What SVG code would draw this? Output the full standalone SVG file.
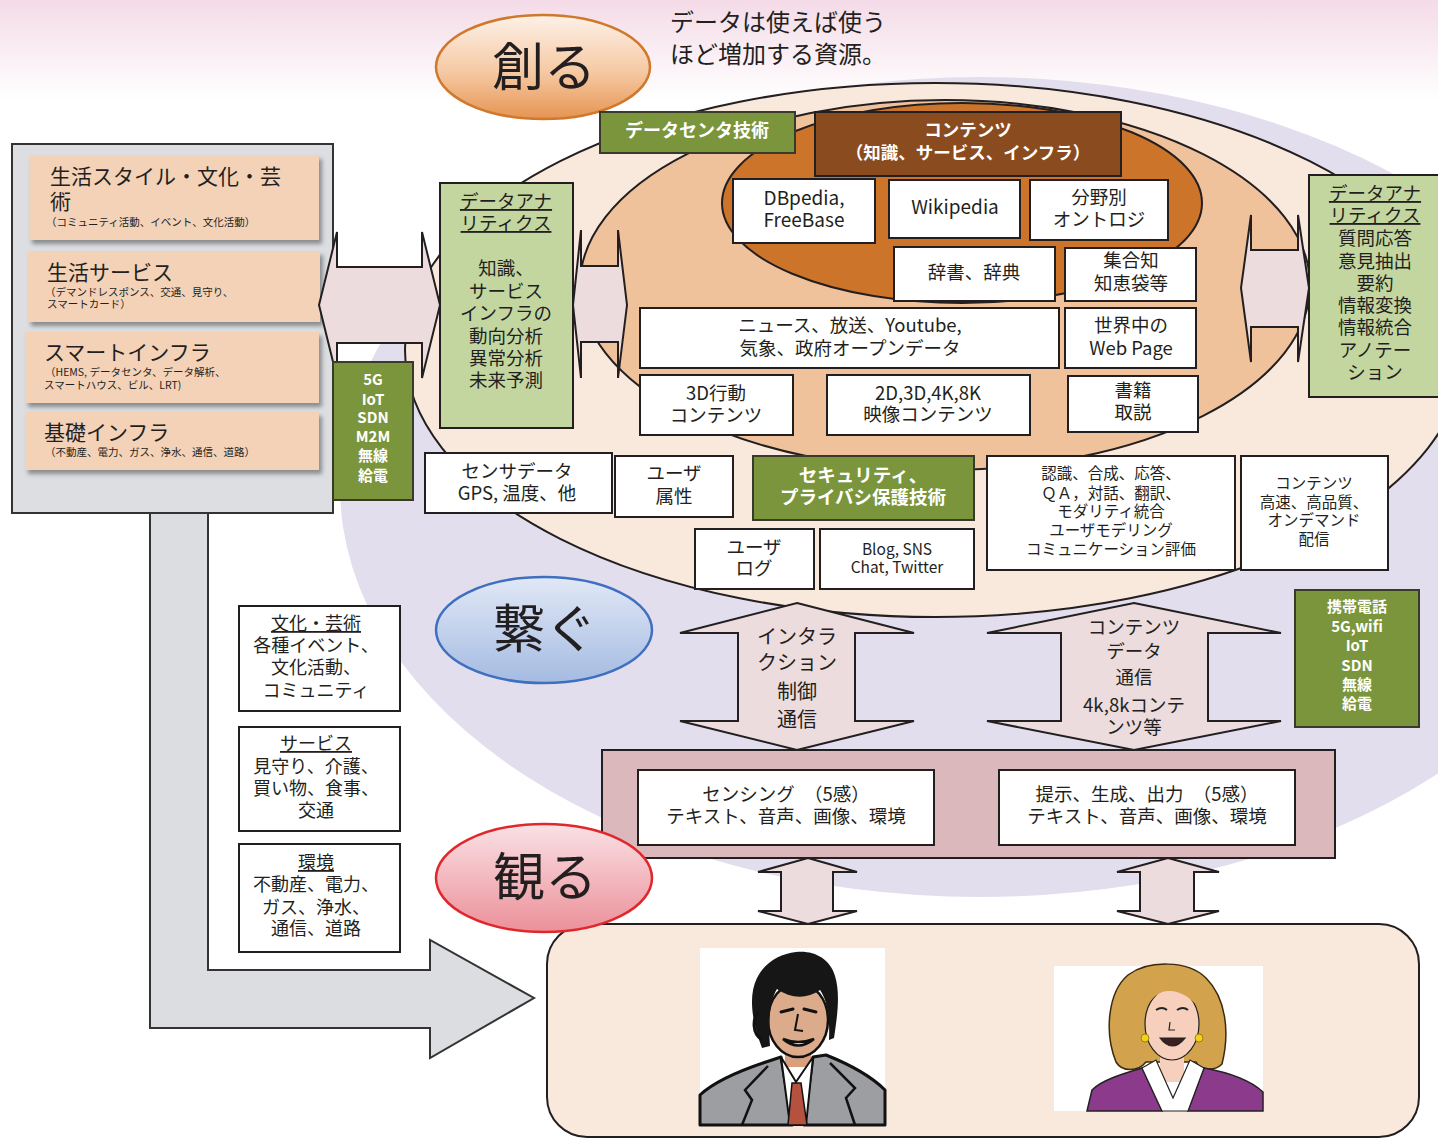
<svg xmlns="http://www.w3.org/2000/svg" width="1438" height="1138" viewBox="0 0 1438 1138">
  <defs>
    <linearGradient id="skyGrad" x1="0" y1="0" x2="0" y2="1">
      <stop offset="0" stop-color="#f4dbe7"/>
      <stop offset="1" stop-color="#ffffff"/>
    </linearGradient>
    <linearGradient id="createGrad" x1="0" y1="0" x2="0" y2="1">
      <stop offset="0" stop-color="#fdf1e8"/>
      <stop offset="0.55" stop-color="#f5c9a3"/>
      <stop offset="1" stop-color="#e59452"/>
    </linearGradient>
    <linearGradient id="linkGrad" x1="0" y1="0" x2="0" y2="1">
      <stop offset="0" stop-color="#e1e8f6"/>
      <stop offset="1" stop-color="#a5bbe2"/>
    </linearGradient>
    <linearGradient id="seeGrad" x1="0" y1="0" x2="0" y2="1">
      <stop offset="0" stop-color="#f9e1e5"/>
      <stop offset="1" stop-color="#ec9099"/>
    </linearGradient>
    <filter id="shadow" x="-10%" y="-10%" width="125%" height="135%">
      <feDropShadow dx="3" dy="4" stdDeviation="2" flood-color="#6d6f73" flood-opacity="0.75"/>
    </filter>
    <style>
      text { font-family: "Noto Sans CJK JP", "Noto Sans", sans-serif; fill: #231f20; }
      .ln { stroke: #231f20; stroke-width: 2; }
      .box { fill: #ffffff; stroke: #231f20; stroke-width: 2; }
      .green { fill: #7a953b; stroke: #3a3a2a; stroke-width: 2; }
      .lgreen { fill: #c4d6a0; stroke: #231f20; stroke-width: 2; }
      .peach { fill: #f3d2b8; filter: url(#shadow); }
      .arrow { fill: #ecdcdd; stroke: #231f20; stroke-width: 2; stroke-linejoin: miter; }
      .t18 { font-size: 18.5px; text-anchor: middle; }
      .t16 { font-size: 15.5px; text-anchor: middle; }
      .w { fill: #ffffff; font-weight: bold; text-anchor: middle; }
      .small { font-size: 10.5px; }
      .big { font-size: 21px; }
      .u { text-decoration: underline; }
      .title { font-size: 52px; text-anchor: middle; }
    </style>
  </defs>

  <!-- background -->
  <rect x="0" y="0" width="1438" height="1138" fill="#ffffff"/>
  <rect x="0" y="0" width="1438" height="100" fill="url(#skyGrad)"/>

  <!-- layered ellipses -->
  <g id="layers">
    <ellipse cx="980" cy="487" rx="640" ry="410" fill="#e2deed"/>
    <ellipse cx="935" cy="350" rx="530" ry="267" fill="#f9e9dd" class="ln"/>
    <ellipse cx="945" cy="285" rx="365" ry="185" fill="#efc29b" class="ln"/>
    <ellipse cx="962" cy="203" rx="240" ry="100" fill="#cd742b" class="ln"/>
  </g>

  <!-- big L-shaped arrow -->
  <g id="flow-arrow">
    <polygon points="150,513 208,513 208,970 430,970 430,940 534,998 430,1058 430,1028 150,1028" fill="#dcdde0" stroke="#333" stroke-width="2"/>
  </g>

  <!-- left panel -->
  <g id="life-panel">
    <rect x="12" y="144" width="321" height="369" fill="#dcdee1" stroke="#333" stroke-width="2"/>
    <rect class="peach" x="29" y="155" width="290" height="85"/>
    <rect class="peach" x="28" y="251" width="292" height="71"/>
    <rect class="peach" x="25" y="332" width="294" height="71"/>
    <rect class="peach" x="25" y="412" width="294" height="58"/>
    <text class="big" x="50" y="184">生活スタイル・文化・芸</text>
    <text class="big" x="50" y="209">術</text>
    <text class="small" x="46" y="226">（コミュニティ活動、イベント、文化活動）</text>
    <text class="big" x="47" y="280">生活サービス</text>
    <text class="small" x="45" y="296">（デマンドレスポンス、交通、見守り、</text>
    <text class="small" x="47" y="308">スマートカード）</text>
    <text class="big" x="44" y="360">スマートインフラ</text>
    <text class="small" x="45" y="376">（HEMS, データセンタ、データ解析、</text>
    <text class="small" x="44" y="389">スマートハウス、ビル、LRT)</text>
    <text class="big" x="44" y="440">基礎インフラ</text>
    <text class="small" x="45" y="456">（不動産、電力、ガス、浄水、通信、道路）</text>
  </g>

  <!-- connectors: double arrows -->
  <g id="connectors">
    <polygon class="arrow" points="319,305 337,232 337,267 422,267 422,232 440,305 422,378 422,343 337,343 337,378"/>
    <polygon class="arrow" points="573,305 581,230 581,266 618,266 618,230 627,305 618,378 618,342 581,342 581,378"/>
    <polygon class="arrow" points="1241,288 1251,215 1251,250 1298,250 1298,215 1309,288 1298,362 1298,327 1251,327 1251,362"/>
    <polygon class="arrow" points="797,603 914,633 855,633 855,721 914,721 797,750 680,721 738,721 738,633 680,633"/>
    <polygon class="arrow" points="1134,603 1281,633 1208,633 1208,721 1281,721 1134,750 987,721 1061,721 1061,633 987,633"/>
    <polygon class="arrow" points="808,858 857,872 833,872 833,911 857,911 808,924 758,911 781,911 781,872 758,872"/>
    <polygon class="arrow" points="1168,858 1219,872 1194,872 1194,911 1219,911 1168,924 1117,911 1140,911 1140,872 1117,872"/>
  </g>

  <g id="net-left">
    <rect class="green" x="333" y="362" width="80" height="138"/>
    <text class="w" style="font-size:15px" x="373" y="385">5G<tspan x="373" y="405">IoT</tspan><tspan x="373" y="423">SDN</tspan><tspan x="373" y="442">M2M</tspan><tspan x="373" y="461">無線</tspan><tspan x="373" y="481">給電</tspan></text>
  </g>

  <g id="analytics-left">
    <rect class="lgreen" x="440" y="183" width="133" height="245"/>
    <text class="t18" x="506" y="208"><tspan class="u">データアナ</tspan><tspan class="u" x="506" y="230">リティクス</tspan><tspan x="506" y="275">知識、</tspan><tspan x="506" y="298">サービス</tspan><tspan x="506" y="320">インフラの</tspan><tspan x="506" y="343">動向分析</tspan><tspan x="506" y="365">異常分析</tspan><tspan x="506" y="387">未来予測</tspan></text>
  </g>

  <g id="analytics-right">
    <rect class="lgreen" x="1309" y="175" width="140" height="222"/>
    <text class="t18" x="1375" y="200"><tspan class="u">データアナ</tspan><tspan class="u" x="1375" y="222">リティクス</tspan><tspan x="1375" y="245">質問応答</tspan><tspan x="1375" y="268">意見抽出</tspan><tspan x="1375" y="290">要約</tspan><tspan x="1375" y="312">情報変換</tspan><tspan x="1375" y="334">情報統合</tspan><tspan x="1375" y="357">アノテー</tspan><tspan x="1375" y="379">ション</tspan></text>
  </g>

  <!-- top labels -->
  <g id="create">
    <ellipse cx="543" cy="67" rx="107" ry="52" fill="url(#createGrad)" stroke="#d0782c" stroke-width="2.5"/>
    <text class="title" x="544" y="86">創る</text>
  </g>
  <g id="caption">
    <text x="670" y="31" style="font-size:24px">データは使えば使う</text>
    <text x="670" y="63" style="font-size:24px">ほど増加する資源。</text>
  </g>

  <g id="datacenter">
    <rect class="green" x="600" y="112" width="195" height="41"/>
    <text class="w" style="font-size:18px" x="697" y="137">データセンタ技術</text>
  </g>
  <g id="contents">
    <rect x="815" y="112" width="306" height="64" fill="#8a4b1f" stroke="#231f20" stroke-width="2"/>
    <text class="w" style="font-size:17.5px" x="968" y="136">コンテンツ<tspan x="968" y="159">（知識、サービス、インフラ）</tspan></text>
  </g>

  <!-- content sources -->
  <g id="dbpedia"><rect class="box" x="733" y="179" width="142" height="64"/><text class="t18" x="804" y="205" style="font-size:19px">DBpedia,<tspan x="804" y="227">FreeBase</tspan></text></g>
  <g id="wikipedia"><rect class="box" x="889" y="180" width="131" height="58"/><text class="t18" x="955" y="214" style="font-size:19px">Wikipedia</text></g>
  <g id="ontology"><rect class="box" x="1030" y="180" width="138" height="60"/><text class="t18" x="1099" y="204">分野別<tspan x="1099" y="226">オントロジ</tspan></text></g>
  <g id="dictionary"><rect class="box" x="894" y="247" width="161" height="54"/><text class="t18" x="974" y="279">辞書、辞典</text></g>
  <g id="collective"><rect class="box" x="1065" y="248" width="131" height="53"/><text class="t18" x="1131" y="267">集合知<tspan x="1131" y="290">知恵袋等</tspan></text></g>
  <g id="news"><rect class="box" x="640" y="308" width="419" height="60"/><text class="t18" x="850" y="332">ニュース、放送、Youtube,<tspan x="850" y="355">気象、政府オープンデータ</tspan></text></g>
  <g id="webpage"><rect class="box" x="1065" y="308" width="131" height="60"/><text class="t18" x="1131" y="332">世界中の<tspan x="1131" y="355">Web Page</tspan></text></g>
  <g id="motion3d"><rect class="box" x="640" y="375" width="153" height="60"/><text class="t18" x="716" y="400">3D行動<tspan x="716" y="422">コンテンツ</tspan></text></g>
  <g id="video"><rect class="box" x="827" y="375" width="203" height="60"/><text class="t18" x="928" y="400">2D,3D,4K,8K<tspan x="928" y="421">映像コンテンツ</tspan></text></g>
  <g id="books"><rect class="box" x="1068" y="376" width="130" height="56"/><text class="t18" x="1133" y="397">書籍<tspan x="1133" y="419">取説</tspan></text></g>

  <!-- middle row -->
  <g id="sensor"><rect class="box" x="425" y="453" width="187" height="60"/><text class="t18" x="517" y="478">センサデータ<tspan x="517" y="500">GPS, 温度、他</tspan></text></g>
  <g id="user-attr"><rect class="box" x="615" y="456" width="118" height="61"/><text class="t18" x="674" y="480">ユーザ<tspan x="674" y="503">属性</tspan></text></g>
  <g id="security"><rect class="green" x="753" y="456" width="221" height="64"/><text class="w" style="font-size:18.5px" x="863" y="482">セキュリティ、<tspan x="863" y="504">プライバシ保護技術</tspan></text></g>
  <g id="user-log"><rect class="box" x="695" y="529" width="119" height="60"/><text class="t18" x="754" y="554">ユーザ<tspan x="754" y="575">ログ</tspan></text></g>
  <g id="blog"><rect class="box" x="820" y="529" width="154" height="60"/><text class="t16" x="897" y="555">Blog, SNS<tspan x="897" y="573">Chat, Twitter</tspan></text></g>
  <g id="dialogue"><rect class="box" x="987" y="456" width="248" height="114"/><text class="t16" x="1111" y="479">認識、合成、応答、<tspan x="1111" y="499">ＱＡ，対話、翻訳、</tspan><tspan x="1111" y="517">モダリティ統合</tspan><tspan x="1111" y="536">ユーザモデリング</tspan><tspan x="1111" y="555">コミュニケーション評価</tspan></text></g>
  <g id="delivery"><rect class="box" x="1241" y="456" width="147" height="114"/><text class="t16" x="1314" y="489">コンテンツ<tspan x="1314" y="508">高速、高品質、</tspan><tspan x="1314" y="526">オンデマンド</tspan><tspan x="1314" y="545">配信</tspan></text></g>

  <!-- connect -->
  <g id="link">
    <ellipse cx="544" cy="630" rx="108" ry="53" fill="url(#linkGrad)" stroke="#3f6fbf" stroke-width="2.5"/>
    <text class="title" x="545" y="648">繋ぐ</text>
  </g>
  <g id="arrow-labels">
    <text x="797" y="644" style="font-size:20px;text-anchor:middle">インタラ<tspan x="797" y="670">クション</tspan><tspan x="797" y="699">制御</tspan><tspan x="797" y="727">通信</tspan></text>
    <text class="t18" x="1134" y="634">コンテンツ<tspan x="1134" y="658">データ</tspan><tspan x="1134" y="684">通信</tspan><tspan x="1134" y="712">4k,8kコンテ</tspan><tspan x="1134" y="734">ンツ等</tspan></text>
  </g>
  <g id="net-right">
    <rect class="green" x="1295" y="590" width="124" height="137"/>
    <text class="w" style="font-size:15px" x="1357" y="612">携帯電話<tspan x="1357" y="632">5G,wifi</tspan><tspan x="1357" y="651">IoT</tspan><tspan x="1357" y="671">SDN</tspan><tspan x="1357" y="690">無線</tspan><tspan x="1357" y="709">給電</tspan></text>
  </g>

  <!-- left category boxes -->
  <g id="culture"><rect class="box" x="239" y="606" width="161" height="105"/><text x="316" y="630" style="font-size:18px;text-anchor:middle"><tspan class="u">文化・芸術</tspan><tspan x="316" y="652">各種イベント、</tspan><tspan x="316" y="674">文化活動、</tspan><tspan x="316" y="697">コミュニティ</tspan></text></g>
  <g id="service"><rect class="box" x="239" y="727" width="161" height="104"/><text x="316" y="750" style="font-size:18px;text-anchor:middle"><tspan class="u">サービス</tspan><tspan x="316" y="773">見守り、介護、</tspan><tspan x="316" y="795">買い物、食事、</tspan><tspan x="316" y="817">交通</tspan></text></g>
  <g id="environment"><rect class="box" x="239" y="844" width="161" height="108"/><text x="316" y="869" style="font-size:18px;text-anchor:middle"><tspan class="u">環境</tspan><tspan x="316" y="891">不動産、電力、</tspan><tspan x="316" y="914">ガス、浄水、</tspan><tspan x="316" y="935">通信、道路</tspan></text></g>

  <!-- interface band -->
  <g id="interface">
    <rect x="602" y="750" width="733" height="108" fill="#dbb8bc" stroke="#231f20" stroke-width="2"/>
    <rect class="box" x="638" y="770" width="296" height="75"/>
    <text class="t18" x="786" y="801">センシング　（5感）<tspan x="786" y="823">テキスト、音声、画像、環境</tspan></text>
    <rect class="box" x="999" y="770" width="296" height="75"/>
    <text class="t18" x="1147" y="801">提示、生成、出力　（5感）<tspan x="1147" y="823">テキスト、音声、画像、環境</tspan></text>
  </g>

  <!-- people area -->
  <g id="people">
    <rect x="547" y="924" width="872" height="213" rx="40" ry="40" fill="#f9e9dd" stroke="#231f20" stroke-width="2"/>
  </g>

  <g id="man">
    <rect x="700" y="948" width="185" height="177" fill="#ffffff"/>
    <rect x="785" y="1045" width="26" height="22" fill="#d8a07f"/>
    <path d="M700,1125 L700,1095 C716,1080 742,1070 766,1062 L781,1057 L792,1125 Z" fill="#9d9ea2" stroke="#111" stroke-width="3" stroke-linejoin="round"/>
    <path d="M885,1125 L885,1090 C870,1075 846,1063 826,1055 L813,1057 L804,1125 Z" fill="#9d9ea2" stroke="#111" stroke-width="3" stroke-linejoin="round"/>
    <path d="M742,1125 L752,1100 L745,1090 L768,1066" fill="none" stroke="#111" stroke-width="2.5"/>
    <path d="M855,1125 L846,1098 L855,1088 L830,1063" fill="none" stroke="#111" stroke-width="2.5"/>
    <path d="M781,1057 L796,1082 L813,1057 L806,1125 L790,1125 Z" fill="#ffffff" stroke="#111" stroke-width="2"/>
    <path d="M792,1083 L801,1083 L807,1125 L788,1125 Z" fill="#b5523f" stroke="#111" stroke-width="1.5"/>
    <ellipse cx="798" cy="1020" rx="30" ry="37" fill="#dcab8c" stroke="#111" stroke-width="2.5"/>
    <path d="M762,1048 C752,1022 748,996 757,978 C765,962 780,954 796,952 C813,950 830,958 835,976 C840,992 838,1012 834,1038 L829,1040 C830,1016 827,1000 820,990 C806,1000 790,998 777,989 C770,1000 768,1022 770,1046 Z" fill="#161616"/>
    <path d="M759,1012 C752,1018 752,1034 762,1040" fill="none" stroke="#111" stroke-width="3"/>
    <path d="M781,1012 L793,1009 M804,1009 L816,1012" stroke="#111" stroke-width="3" stroke-linecap="round"/>
    <path d="M798,1014 L795,1030 L803,1031" fill="none" stroke="#111" stroke-width="2"/>
    <path d="M783,1039 Q798,1052 814,1039 Q798,1045 783,1039 Z" fill="#ffffff" stroke="#111" stroke-width="2.5"/>
  </g>

  <g id="woman">
    <rect x="1054" y="966" width="209" height="145" fill="#ffffff"/>
    <path d="M1116,1062 C1104,1032 1108,992 1128,975 C1148,960 1188,960 1206,978 C1226,998 1230,1032 1222,1064 C1214,1072 1200,1070 1196,1062 L1146,1062 C1138,1072 1122,1072 1116,1062 Z" fill="#d3a24c" stroke="#3a2a10" stroke-width="1.5"/>
    <rect x="1160" y="1052" width="24" height="30" fill="#f6d0bc"/>
    <path d="M1087,1111 L1092,1090 C1102,1080 1122,1074 1142,1068 L1162,1111 Z" fill="#8c3a8c" stroke="#222" stroke-width="1.5"/>
    <path d="M1263,1111 L1263,1092 C1250,1080 1226,1072 1204,1068 L1188,1111 Z" fill="#8c3a8c" stroke="#222" stroke-width="1.5"/>
    <path d="M1142,1068 L1162,1111 L1188,1111 L1204,1068 L1190,1060 L1173,1098 L1156,1060 Z" fill="#ffffff" stroke="#222" stroke-width="1.2"/>
    <ellipse cx="1172" cy="1024" rx="27" ry="36" fill="#f6d0bc" stroke="#222" stroke-width="1.2"/>
    <path d="M1144,1012 C1146,986 1160,975 1178,977 C1194,980 1201,994 1201,1012 C1192,996 1176,988 1162,992 C1153,996 1148,1003 1144,1012 Z" fill="#d3a24c"/>
    <path d="M1156,1010 Q1162,1006 1167,1010 M1177,1010 Q1183,1006 1188,1010" fill="none" stroke="#222" stroke-width="2"/>
    <path d="M1170,1022 L1169,1030 L1175,1030" fill="none" stroke="#222" stroke-width="1.2"/>
    <path d="M1160,1038 Q1172,1054 1185,1038 Z" fill="#3a2020" stroke="#222" stroke-width="1.2"/>
    <circle cx="1145" cy="1038" r="4" fill="#f1d21a" stroke="#8a7000" stroke-width="0.8"/>
    <circle cx="1199" cy="1038" r="4" fill="#f1d21a" stroke="#8a7000" stroke-width="0.8"/>
  </g>

  <!-- see -->
  <g id="see">
    <ellipse cx="544" cy="878" rx="108" ry="54" fill="url(#seeGrad)" stroke="#e0282c" stroke-width="2.5"/>
    <text class="title" x="545" y="896">観る</text>
  </g>
</svg>
